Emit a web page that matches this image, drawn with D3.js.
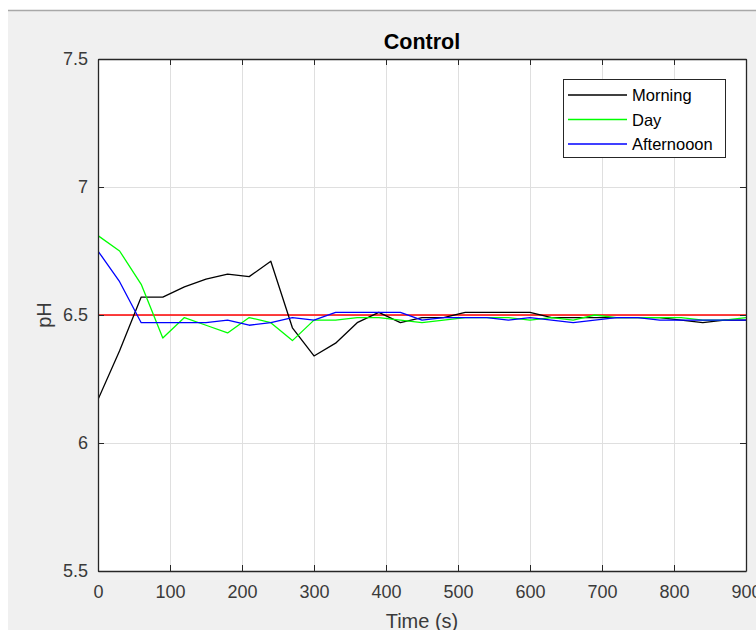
<!DOCTYPE html>
<html><head><meta charset="utf-8">
<script src="https://cdn.jsdelivr.net/npm/d3@7"></script>
<style>body{margin:0;background:#fff;}svg{display:block;}</style>
</head><body>
<script>
const times = [0,30,60,90,120,150,180,210,240,270,300,330,360,390,420,450,480,510,540,570,600,630,660,690,720,750,780,810,840,870,900];
const morning = [6.17,6.36,6.57,6.57,6.61,6.64,6.66,6.65,6.71,6.45,6.34,6.39,6.47,6.51,6.47,6.49,6.49,6.51,6.51,6.51,6.51,6.49,6.49,6.49,6.49,6.49,6.49,6.48,6.47,6.48,6.48];
const day = [6.81,6.75,6.62,6.41,6.49,6.46,6.43,6.49,6.47,6.40,6.48,6.48,6.49,6.49,6.48,6.47,6.48,6.49,6.49,6.49,6.48,6.49,6.48,6.50,6.49,6.49,6.49,6.49,6.48,6.48,6.49];
const afternoon = [6.75,6.63,6.47,6.47,6.47,6.47,6.48,6.46,6.47,6.49,6.48,6.51,6.51,6.51,6.51,6.48,6.49,6.49,6.49,6.48,6.49,6.48,6.47,6.48,6.49,6.49,6.48,6.48,6.48,6.48,6.48];
const setpoint = [6.5, 6.5];
const setpointTimes = [0, 900];
const seriesNames = ["Morning","Day","Afternooon"];
const seriesColors = ["#000000","#00ff00","#0000ff"];
const xTicks = [0,100,200,300,400,500,600,700,800,900];
const yTicks = [5.5,6,6.5,7,7.5];

const W = 756, H = 630;
const svg = d3.select("body").append("svg").attr("width", W).attr("height", H);
// figure background
svg.append("rect").attr("x",8).attr("y",10).attr("width",W-8).attr("height",H-10).attr("fill","#f0f0f0");
svg.append("line").attr("x1",8).attr("x2",W).attr("y1",10.5).attr("y2",10.5).attr("stroke","#a8a8a8").attr("stroke-width",1.5);

const L = 98, R = 746, T = 59, B = 571;
const x = d3.scaleLinear().domain([0,900]).range([L,R]);
const y = d3.scaleLinear().domain([5.5,7.5]).range([B,T]);
const font = "'Liberation Sans', Arial, Helvetica, sans-serif";
const axCol = "#262626";
const txtCol = "#3a3a3a";

svg.append("rect").attr("x",L).attr("y",T).attr("width",R-L).attr("height",B-T).attr("fill","#fff");

// grid
const g = svg.append("g");
g.selectAll(".vg").data(xTicks.slice(1,-1)).enter().append("line")
  .attr("x1",d=>x(d)+0.5).attr("x2",d=>x(d)+0.5).attr("y1",T).attr("y2",B)
  .attr("stroke","#dfdfdf").attr("stroke-width",1);
g.selectAll(".hg").data(yTicks.slice(1,-1)).enter().append("line")
  .attr("y1",d=>Math.round(y(d))+0.5).attr("y2",d=>Math.round(y(d))+0.5).attr("x1",L).attr("x2",R)
  .attr("stroke","#dfdfdf").attr("stroke-width",1);

// lines
svg.append("clipPath").attr("id","c").append("rect").attr("x",L).attr("y",T).attr("width",R-L).attr("height",B-T);
const plot = svg.append("g").attr("clip-path","url(#c)");
const line = d3.line().x(d=>x(d[0])).y(d=>y(d[1]));
plot.append("path").datum(setpointTimes.map((t,i)=>[t,setpoint[i]])).attr("d",line)
  .attr("fill","none").attr("stroke","#ff0000").attr("stroke-width",1.3);
[morning, day, afternoon].forEach((vals,i)=>{
  plot.append("path").datum(times.map((t,j)=>[t,vals[j]])).attr("d",line)
    .attr("fill","none").attr("stroke",seriesColors[i]).attr("stroke-width",1.3).attr("stroke-linejoin","round");
});

// axes with inward ticks
const tl = 6;
const axB = svg.append("g").attr("transform",`translate(0,${B})`)
  .call(d3.axisBottom(x).tickValues(xTicks).tickSizeInner(-tl).tickSizeOuter(0).tickPadding(14).tickFormat(d3.format("d")));
const axT = svg.append("g").attr("transform",`translate(0,${T})`)
  .call(d3.axisTop(x).tickValues(xTicks).tickSizeInner(-tl).tickSizeOuter(0).tickFormat(""));
const axL = svg.append("g").attr("transform",`translate(${L},0)`)
  .call(d3.axisLeft(y).tickValues(yTicks).tickSizeInner(-tl).tickSizeOuter(0).tickPadding(10).tickFormat(d=>String(d)));
const axR = svg.append("g").attr("transform",`translate(${R},0)`)
  .call(d3.axisRight(y).tickValues(yTicks).tickSizeInner(-tl).tickSizeOuter(0).tickFormat(""));
[axB,axT,axL,axR].forEach(a=>{
  a.selectAll(".domain").attr("stroke",axCol).attr("stroke-width",1.3);
  a.selectAll(".tick line").attr("stroke",axCol).attr("stroke-width",1);
  a.selectAll("text").attr("fill",txtCol).style("font-family",font).style("font-size","18px");
});

// title and labels
svg.append("text").attr("x",(L+R)/2).attr("y",49).attr("text-anchor","middle")
  .style("font-family",font).style("font-size","21.5px").style("font-weight","bold").attr("fill","#000").text("Control");
svg.append("text").attr("x",(L+R)/2).attr("y",628).attr("text-anchor","middle")
  .style("font-family",font).style("font-size","20px").attr("fill",txtCol).text("Time (s)");
svg.append("text").attr("transform",`translate(51,${(T+B)/2}) rotate(-90)`).attr("text-anchor","middle")
  .style("font-family",font).style("font-size","20px").attr("fill",txtCol).text("pH");

// legend
const lg = svg.append("g");
lg.append("rect").attr("x",563.5).attr("y",79.5).attr("width",162).attr("height",78)
  .attr("fill","#fff").attr("stroke",axCol).attr("stroke-width",1);
seriesNames.forEach((n,i)=>{
  const cy = 95 + i*24.5;
  lg.append("line").attr("x1",568).attr("x2",627).attr("y1",cy).attr("y2",cy)
    .attr("stroke",seriesColors[i]).attr("stroke-width",1.3);
  lg.append("text").attr("x",632).attr("y",cy+6).style("font-family",font).style("font-size","16.5px")
    .attr("fill","#000").text(n);
});
</script>
</body></html>
